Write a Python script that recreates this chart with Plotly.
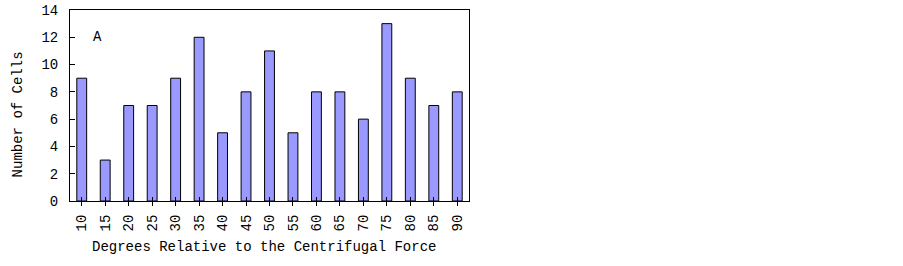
import plotly.graph_objects as go

categories = ["10", "15", "20", "25", "30", "35", "40", "45", "50", "55", "60", "65", "70", "75", "80", "85", "90"]
cells = [9, 3, 7, 7, 9, 12, 5, 8, 11, 5, 8, 8, 6, 13, 9, 7, 8]
y_ticks = [0, 2, 4, 6, 8, 10, 12, 14]

FAM = "Liberation Mono, DejaVu Sans Mono, monospace"
FONT = dict(family=FAM, size=14, color="black")
TICKFONT = dict(family=FAM, size=14, color="black")

fig = go.Figure()
fig.add_trace(go.Bar(
    x=categories, y=cells,
    marker=dict(color="#9999FF", line=dict(color="black", width=1)),
    width=0.42,
    showlegend=False, hoverinfo="x+y",
))
# invisible trace on overlay axis to draw crossing ticks
fig.add_trace(go.Scatter(x=[0], y=[0], xaxis="x2", mode="markers",
                         marker=dict(opacity=0), showlegend=False, hoverinfo="skip"))

fig.update_layout(
    width=903, height=266,
    margin=dict(l=70, r=434, t=10, b=65),
    paper_bgcolor="white", plot_bgcolor="white",
    font=FONT,
    xaxis=dict(
        type="category", categoryorder="array", categoryarray=categories,
        range=[-0.5, 16.5], automargin=False,
        showline=True, linecolor="black", linewidth=1, mirror=True,
        ticks="outside", ticklen=4, tickcolor="black", tickwidth=1,
        tickangle=-90, showgrid=False, zeroline=False,
        tickfont=TICKFONT, ticklabelstandoff=3, ticklabeloverflow="allow",
    ),
    xaxis2=dict(
        overlaying="x", range=[-0.5, 16.5], tickvals=list(range(len(categories))),
        showticklabels=False, ticks="inside", ticklen=4, tickcolor="black",
        showline=False, showgrid=False, zeroline=False, side="bottom", automargin=False,
    ),
    yaxis=dict(
        range=[0, 14], tickvals=y_ticks, automargin=False,
        showline=True, linecolor="black", linewidth=1, mirror=True,
        ticks="inside", ticklen=5, tickcolor="black",
        showgrid=False, zeroline=False,
        tickfont=TICKFONT, ticklabelstandoff=8, ticklabeloverflow="allow",
    ),
    annotations=[
        dict(text="A", x=0.068, y=0.859, xref="paper", yref="paper",
             showarrow=False, font=TICKFONT, xanchor="center", yanchor="middle"),
        dict(text="Degrees Relative to the Centrifugal Force", x=0.486, y=-0.241,
             xref="paper", yref="paper", showarrow=False, font=FONT,
             xanchor="center", yanchor="middle"),
        dict(text="Number of Cells", x=-0.128, y=0.453, textangle=-90,
             xref="paper", yref="paper", showarrow=False, font=FONT,
             xanchor="center", yanchor="middle"),
    ],
)

# remove the default 8px page margin so the figure fills the window exactly
fig.write_html("out.html", config={"displayModeBar": False},
               post_script="document.body.style.margin='0';")
